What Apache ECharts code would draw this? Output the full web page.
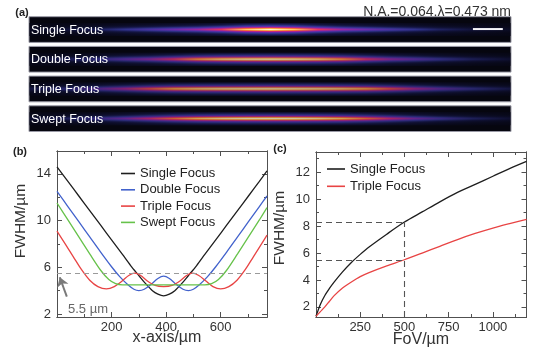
<!DOCTYPE html>
<html><head><meta charset="utf-8">
<script src="https://cdn.jsdelivr.net/npm/echarts@6/dist/echarts.min.js"></script>
<style>html,body{margin:0;padding:0;background:#fff}#c{width:549px;height:351px}</style>
</head><body><div id="c"></div>
<script>
// ---------- panel (a): beam intensity strips ----------
const stripNames = ['Single Focus','Double Focus','Triple Focus','Swept Focus'];
const beamPos = [0, 8, 15, 20, 25, 30, 35, 40, 45, 50, 55, 60, 65, 70, 75, 80, 85, 92, 100]; // % along strip
const singleBeam = [0.04,0.09,0.15,0.22,0.29,0.37,0.46,0.62,0.88,1.0,0.88,0.62,0.46,0.37,0.29,0.22,0.15,0.09,0.04];
const doubleBeam = [0.08,0.16,0.26,0.36,0.46,0.62,0.82,0.93,0.98,1.0,0.98,0.93,0.82,0.62,0.46,0.36,0.26,0.16,0.08];
const tripleBeam = [0.13,0.24,0.38,0.52,0.70,0.86,0.93,0.97,0.99,1.0,0.99,0.97,0.93,0.86,0.70,0.52,0.38,0.24,0.13];
const sweptBeam  = [0.08,0.17,0.28,0.40,0.56,0.74,0.88,0.95,0.99,1.0,0.99,0.95,0.88,0.74,0.56,0.40,0.28,0.17,0.08];
const beamRows = [0.1,0.16,0.24,0.36,0.55,0.82,1,0.82,0.55,0.36,0.24,0.16,0.1]; // transverse profile
const scaleBar = [92.1, 98.3];
const naText = 'N.A.=0.064,\u03bb=0.473 nm';

// ---------- panel (b): FWHM vs x ----------
const bBlackX = [0,40,80,120,160,200,240,270,300,325,350,370,391,412,432,457,482,512,542,582,622,662,702,742,770];
const bBlack  = [14.6,13.35,12.1,10.85,9.6,8.35,7.1,6.15,5.3,4.6,4.0,3.7,3.55,3.7,4.0,4.6,5.3,6.15,7.1,8.35,9.6,10.85,12.1,13.35,14.25];
const bBlueX  = [0,40,80,120,160,200,230,260,282,300,320,345,370,391,412,437,462,482,500,522,552,582,622,662,702,742,770];
const bBlue   = [12.5,11.2,9.9,8.6,7.3,6.05,5.2,4.5,4.12,4.0,4.12,4.55,5.05,5.25,5.05,4.55,4.12,4.0,4.12,4.5,5.2,6.05,7.3,8.6,9.9,11.2,12.1];
const bRedX   = [0,30,60,90,120,150,181,210,240,263,285,307,330,360,391,422,452,475,497,520,545,572,600,630,660,690,720,750,770];
const bRed    = [9.1,8.0,6.9,5.8,4.9,4.35,4.15,4.35,4.85,5.3,5.5,5.3,4.85,4.45,4.35,4.45,4.85,5.3,5.5,5.3,4.85,4.35,4.15,4.35,4.9,5.8,6.9,8.0,8.75];
const bGreenX = [0,40,80,120,160,190,215,240,270,391,512,542,567,592,622,662,702,742,770];
const bGreen  = [11.5,10.05,8.6,7.15,5.75,4.95,4.6,4.5,4.5,4.5,4.5,4.5,4.6,4.95,5.75,7.15,8.6,10.05,11.1];
const bLimit = 5.5;
const bXMajor = [200,400,600], bXMinor = [100,300,500,700];
const bYMajor = [2,6,10,14], bYMinor = [4,8,12];

// ---------- panel (c): FWHM vs FoV ----------
const cX      = [0,25,50,75,100,150,200,250,300,400,500,600,700,800,900,1000,1100,1190];
const cSingle = [1.3,2.2,2.85,3.35,3.8,4.6,5.3,5.9,6.45,7.4,8.3,9.05,9.8,10.5,11.1,11.7,12.3,12.8];
const cTriple = [1.3,1.65,2.0,2.4,2.8,3.4,3.85,4.25,4.55,5.05,5.5,6.0,6.5,7.0,7.45,7.85,8.2,8.5];
const cFoV = 500, cSingleAt = 8.3, cTripleAt = 5.5;
const cXMajor = [250,500,750,1000], cXMinor = [125,375,625,875,1125];
const cYMajor = [2,4,6,8,10,12], cYMinor = [3,5,7,9,11,13];

const FONT = "'Liberation Sans', Arial, sans-serif";
const AX = '#505050';
const zip = (xs, ys) => xs.map((x, i) => [x, ys[i]]);

const cmapStops = [[0,[6,6,18]],[0.1,[18,20,62]],[0.22,[48,50,140]],[0.35,[96,46,172]],[0.48,[168,36,150]],[0.6,[228,46,96]],[0.72,[246,108,52]],[0.85,[255,188,76]],[1,[255,248,205]]];
function cmap(t){
  t = Math.max(0, Math.min(1, t));
  for (let i = 1; i < cmapStops.length; i++) {
    if (t <= cmapStops[i][0]) {
      const [t0, c0] = cmapStops[i-1], [t1, c1] = cmapStops[i];
      const f = (t - t0) / (t1 - t0);
      return 'rgb(' + c0.map((v,k) => Math.round(v + (c1[k]-v)*f)).join(',') + ')';
    }
  }
  return 'rgb(255,248,205)';
}
const beamProfiles = [singleBeam, doubleBeam, tripleBeam, sweptBeam];

function renderStrip(params, api){
  const idx = api.value(1);
  const p0 = api.coord([0, idx]), p1 = api.coord([100, idx]);
  const band = api.size([0, 1])[1];
  const h = band - 4;
  const x0 = p0[0], x1 = p1[0], yc = p0[1], w = x1 - x0, top = yc - h/2;
  const prof = beamProfiles[idx];
  const children = [{type:'rect', shape:{x:x0, y:top, width:w, height:h}, style:{fill:'#06060f', stroke:'#9a9aa6', lineWidth:1}}];
  beamRows.forEach((wt, r) => {
    const stops = beamPos.map((p, i) => ({offset:p/100, color:cmap(prof[i]*wt)}));
    children.push({type:'rect', shape:{x:x0+0.5, y:yc - beamRows.length/2 + r, width:w-1, height:1},
      style:{fill:new echarts.graphic.LinearGradient(0,0,1,0,stops)}});
  });
  children.push({type:'text', style:{text:stripNames[idx], x:x0+2, y:yc+0.5, fill:'#ffffff', font:'12.5px '+FONT,
    align:'left', verticalAlign:'middle', textAlign:'left', textVerticalAlign:'middle'}});
  if (idx === 0) {
    const s0 = api.coord([scaleBar[0], idx]), s1 = api.coord([scaleBar[1], idx]);
    children.push({type:'line', shape:{x1:s0[0], y1:yc-0.5, x2:s1[0], y2:yc-0.5}, style:{stroke:'#f4f4f8', lineWidth:2}});
  }
  return {type:'group', children};
}

const numFmt = v => String(v);
function xAx(grid, pos, min, max, ticks, len, labels){
  return {type:'value', gridIndex:grid, position:pos, min, max,
    axisLine:{show:true, onZero:false, lineStyle:{color:AX, width:1}},
    axisTick:{show:true, inside:true, length:len, customValues:ticks, lineStyle:{color:AX, width:1}},
    axisLabel: labels ? {show:true, customValues:ticks, formatter:numFmt, fontSize:13, color:'#333', margin:4, fontFamily:FONT} : {show:false},
    splitLine:{show:false}};
}
function yAx(grid, pos, min, max, ticks, len, labels){
  return {type:'value', gridIndex:grid, position:pos, min, max,
    axisLine:{show:true, onZero:false, lineStyle:{color:AX, width:1}},
    axisTick:{show:true, inside:true, length:len, customValues:ticks, lineStyle:{color:AX, width:1}},
    axisLabel: labels ? {show:true, customValues:ticks, formatter:numFmt, fontSize:13, color:'#333', margin:6, fontFamily:FONT} : {show:false},
    splitLine:{show:false}};
}

const bXR = [0, 770], bYR = [1.75, 15.95];
const cXR = [0, 1190], cYR = [1.25, 13.5];

const lineS = (name, data, color, xi, yi, extra) => Object.assign({
  type:'line', name, data, xAxisIndex:xi, yAxisIndex:yi, symbol:'none', showSymbol:false,
  smooth:0.3, lineStyle:{color, width:1.3}, itemStyle:{color}, z:3, silent:true}, extra||{});

const txt = (text, x, y, size, opts) => ({type:'text', x, y, silent:true, rotation:(opts&&opts.rot)||0,
  style:Object.assign({text, font:((opts&&opts.bold)?'bold ':'')+size+'px '+FONT, fill:(opts&&opts.fill)||'#333',
    align:(opts&&opts.align)||'center', verticalAlign:'middle',
    textAlign:(opts&&opts.align)||'center', textVerticalAlign:'middle'})});

const legendBase = {orient:'vertical', icon:'rect', itemHeight:1.6, selectedMode:false,
  textStyle:{fontSize:13, color:'#222', fontFamily:FONT, lineHeight:14}};

const option = {
  animation:false,
  backgroundColor:'#ffffff',
  grid:[
    {left:29, top:14.7, width:482, height:118.8},
    {left:57, top:151, width:210, height:166},
    {left:316, top:152, width:210.5, height:165}
  ],
  xAxis:[
    {type:'value', gridIndex:0, min:0, max:100, show:false},
    xAx(1,'bottom',bXR[0],bXR[1],bXMajor,5,true),
    xAx(1,'bottom',bXR[0],bXR[1],bXMinor,3,false),
    xAx(1,'top',bXR[0],bXR[1],bXMajor,5,false),
    xAx(1,'top',bXR[0],bXR[1],bXMinor,3,false),
    xAx(2,'bottom',cXR[0],cXR[1],cXMajor,5,true),
    xAx(2,'bottom',cXR[0],cXR[1],cXMinor,3,false),
    xAx(2,'top',cXR[0],cXR[1],cXMajor,5,false),
    xAx(2,'top',cXR[0],cXR[1],cXMinor,3,false)
  ],
  yAxis:[
    {type:'category', gridIndex:0, data:stripNames, inverse:true, show:false},
    yAx(1,'left',bYR[0],bYR[1],bYMajor,5,true),
    yAx(1,'left',bYR[0],bYR[1],bYMinor,3,false),
    yAx(1,'right',bYR[0],bYR[1],bYMajor,5,false),
    yAx(1,'right',bYR[0],bYR[1],bYMinor,3,false),
    yAx(2,'left',cYR[0],cYR[1],cYMajor,5,true),
    yAx(2,'left',cYR[0],cYR[1],cYMinor,3,false),
    yAx(2,'right',cYR[0],cYR[1],cYMajor,5,false),
    yAx(2,'right',cYR[0],cYR[1],cYMinor,3,false)
  ],
  legend:[
    Object.assign({}, legendBase, {data:['Single Focus','Double Focus','Triple Focus','Swept Focus'],
      left:116, top:161.5, itemWidth:14, itemGap:2.3}),
    Object.assign({}, legendBase, {data:['Single Focus','Triple Focus'],
      left:322, top:157, itemWidth:18, itemGap:3.3})
  ],
  series:[
    {type:'custom', name:'beams', xAxisIndex:0, yAxisIndex:0, data:stripNames.map((n,i)=>[50,i]),
      encode:{x:0, y:1}, renderItem:renderStrip, silent:true, clip:false},
    lineS('Single Focus', zip(bBlackX,bBlack), '#1e1e1e', 1, 1),
    lineS('Double Focus', zip(bBlueX,bBlue), '#4262cc', 1, 1),
    lineS('Triple Focus', zip(bRedX,bRed), '#e84444', 1, 1, {
      markLine:{silent:true, symbol:'none', label:{show:false}, lineStyle:{color:'#9a9a9a', type:[5,4], width:1.2},
        data:[{yAxis:bLimit}]}}),
    lineS('Swept Focus', zip(bGreenX,bGreen), '#66c24a', 1, 1, {
      markLine:{silent:true, symbol:['none','arrow'], symbolSize:9, label:{show:false},
        lineStyle:{color:'#7a7a7a', type:'solid', width:2}, itemStyle:{color:'#7a7a7a'},
        data:[[{coord:[36,3.5]},{coord:[10,5.15]}]]}}),
    lineS('Single Focus', zip(cX,cSingle), '#1e1e1e', 5, 5, {
      markLine:{silent:true, symbol:'none', label:{show:false}, lineStyle:{color:'#555', type:[6,4], width:1.1},
        data:[
          [{coord:[0,cSingleAt]},{coord:[cFoV,cSingleAt]}],
          [{coord:[0,cTripleAt]},{coord:[cFoV,cTripleAt]}],
          [{coord:[cFoV,cYR[0]]},{coord:[cFoV,cSingleAt]}]
        ]}}),
    lineS('Triple Focus', zip(cX,cTriple), '#e84444', 5, 5)
  ],
  graphic:[
    txt('(a)', 22, 13, 11, {bold:true, fill:'#222'}),
    txt('(b)', 20, 152, 11, {bold:true, fill:'#222'}),
    txt('(c)', 280, 149, 11, {bold:true, fill:'#222'}),
    txt(naText, 511, 12, 14, {align:'right'}),
    txt('FWHM/\u00b5m', 21, 221, 15.5, {rot:Math.PI/2}),
    txt('x-axis/\u00b5m', 167, 338, 16),
    txt('FWHM/\u00b5m', 280, 228, 15.5, {rot:Math.PI/2}),
    txt('FoV/\u00b5m', 421, 340, 16),
    txt('5.5 \u00b5m', 68, 309, 13, {align:'left', fill:'#666'})
  ]
};
const chart = echarts.init(document.getElementById('c'));
chart.setOption(option);
</script>
</body></html>
